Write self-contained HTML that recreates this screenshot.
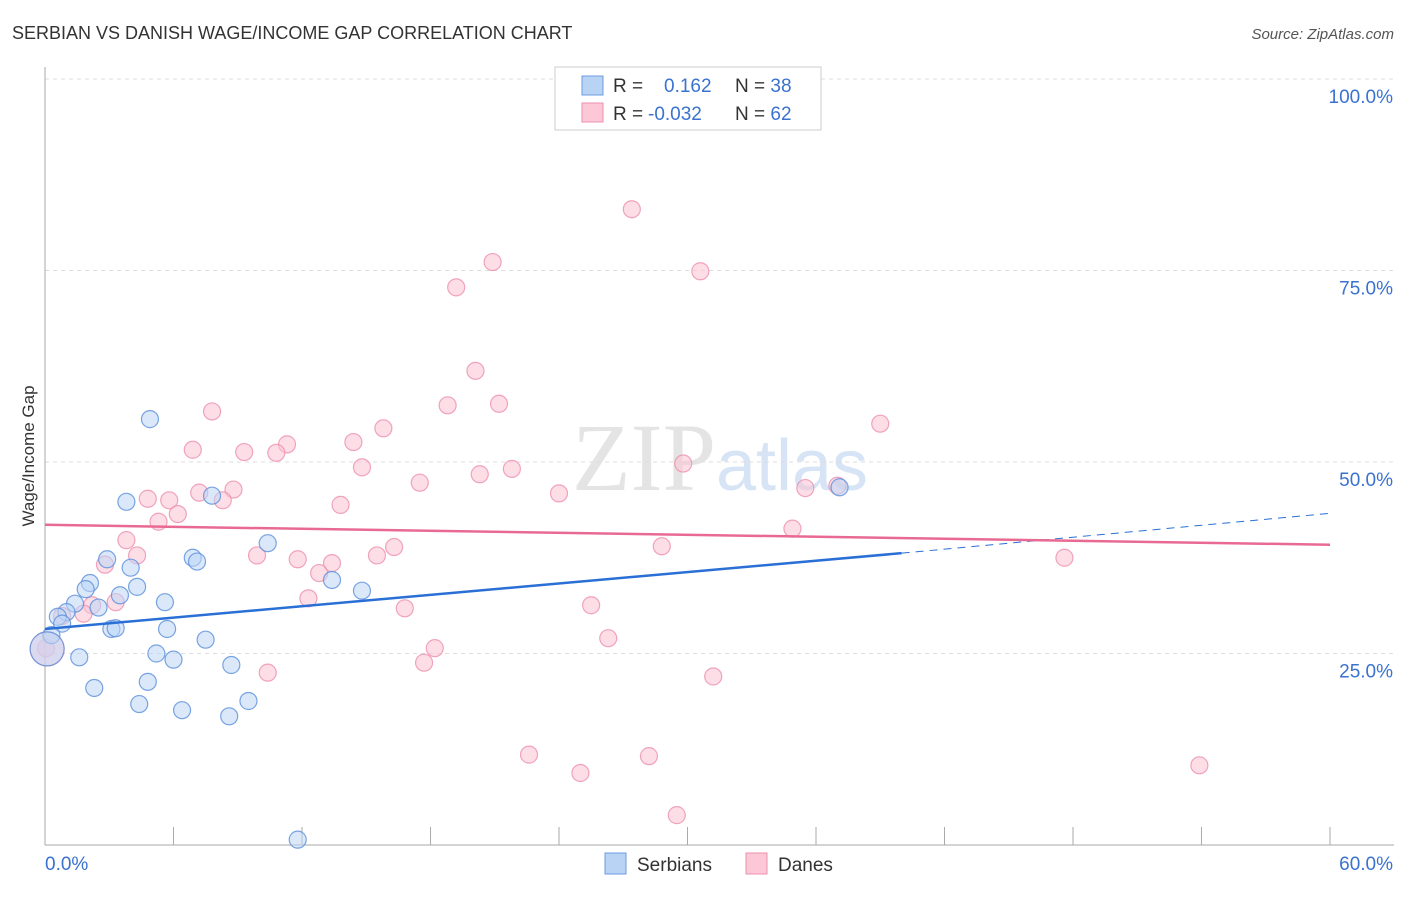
<!DOCTYPE html>
<html><head><meta charset="utf-8"><style>
body{margin:0;background:#fff;font-family:"Liberation Sans",sans-serif;}
</style></head><body>
<svg id="chart" width="1406" height="892" xmlns="http://www.w3.org/2000/svg" style="font-family:'Liberation Sans',sans-serif">
<text x="12" y="39" font-size="18" fill="#333">SERBIAN VS DANISH WAGE/INCOME GAP CORRELATION CHART</text>
<text x="1394" y="39" font-size="15" fill="#555" font-style="italic" text-anchor="end">Source: ZipAtlas.com</text>
<text x="720" y="490" font-size="96" fill="#e4e4e4" text-anchor="middle" font-family="Liberation Serif">ZIP<tspan fill="#d6e4f5" font-family="Liberation Sans" font-size="72">atlas</tspan></text>
<g id="grid"></g><g id="axes"></g><g id="marks"></g>
<text transform="translate(34,456) rotate(-90)" font-size="17" fill="#333" text-anchor="middle">Wage/Income Gap</text>
<g>
<rect x="555" y="67" width="266" height="63" fill="#fff" stroke="#ccc"/>
<rect x="582" y="76" width="21" height="19" fill="#b9d3f5" stroke="#6a9be0"/>
<rect x="582" y="103" width="21" height="19" fill="#fcc8d8" stroke="#ec8fae"/>
<text x="613" y="92" font-size="19" fill="#333">R = <tspan x="664" fill="#3a72d0">0.162</tspan><tspan x="735">N = </tspan><tspan fill="#3a72d0">38</tspan></text>
<text x="613" y="120" font-size="19" fill="#333">R = <tspan x="648" fill="#3a72d0">-0.032</tspan><tspan x="735">N = </tspan><tspan fill="#3a72d0">62</tspan></text>
</g>
<g>
<rect x="605" y="853" width="21" height="21" fill="#b9d3f5" stroke="#6a9be0"/>
<text x="637" y="871" font-size="19" fill="#333">Serbians</text>
<rect x="746" y="853" width="21" height="21" fill="#fcc8d8" stroke="#ec8fae"/>
<text x="778" y="871" font-size="19" fill="#333">Danes</text>
</g>
</svg>
<script>
const yTicks=[25,50,75,100];
const yTickLabels=["25.0%","50.0%","75.0%","100.0%"];
const xTicks=[0,6,12,18,24,30,36,42,48,54,60];
const serbX=[4.9,3.8,7.8,37.1,10.4,2.9,6.9,7.1,4.0,2.1,1.9,4.3,3.5,5.6,1.4,2.5,1.0,0.6,0.8,3.1,3.3,5.7,0.3,7.5,5.2,6.0,1.6,8.7,4.8,2.3,4.4,9.5,6.4,8.6,11.8,13.4,14.8,0.1];
const serbY=[55.6,44.8,45.6,46.7,39.4,37.3,37.5,37.0,36.2,34.2,33.4,33.7,32.6,31.7,31.5,31.0,30.4,29.8,28.9,28.2,28.3,28.2,27.4,26.8,25.0,24.2,24.5,23.5,21.3,20.5,18.4,18.8,17.6,16.8,0.7,34.6,33.2,25.6];
const daneX=[27.4,20.9,30.6,19.2,20.1,7.8,39.0,18.8,21.2,15.8,11.3,14.4,6.9,9.3,10.8,14.8,29.8,21.8,20.3,17.5,35.5,37.0,8.8,7.2,5.8,4.8,8.3,24.0,13.8,6.2,5.3,34.9,3.8,16.3,28.8,4.3,9.9,15.5,11.8,13.4,47.6,2.8,12.8,3.3,12.3,2.2,25.5,16.8,1.8,0.8,26.3,18.2,0.05,17.7,10.4,31.2,22.6,28.2,25.0,53.9,29.5,0.1];
const daneY=[83.0,76.1,74.9,72.8,61.9,56.6,55.0,57.4,57.6,54.4,52.3,52.6,51.6,51.3,51.2,49.3,49.8,49.1,48.4,47.3,46.6,46.9,46.4,46.0,45.0,45.2,45.0,45.9,44.4,43.2,42.2,41.3,39.8,38.9,39.0,37.8,37.8,37.8,37.3,36.8,37.5,36.6,35.5,31.7,32.2,31.3,31.3,30.9,30.2,29.9,27.0,25.7,25.7,23.8,22.5,22.0,11.8,11.6,9.4,10.4,3.9,25.6];
const serbTrend=[0,28.2,40,38.1,60,43.3];
const daneTrend=[0,41.8,60,39.2];
const X=v=>45+v/60*1285, Y=v=>845-v/100*766;
const ns="http://www.w3.org/2000/svg";
function mk(p,t,a){const e=document.createElementNS(ns,t);for(const k in a)e.setAttribute(k,a[k]);p.appendChild(e);return e;}
const grid=document.getElementById('grid'),axes=document.getElementById('axes'),marks=document.getElementById('marks');
yTicks.forEach((t,i)=>{const g=mk(grid,'line',{x1:45,x2:1394,y1:Y(t),y2:Y(t),stroke:'#ddd','stroke-dasharray':'4,4'});

const l=mk(axes,'text',{x:1393,y:Y(t)+24,'font-size':19,fill:'#3a72d0','text-anchor':'end'});l.textContent=yTickLabels[i];
});
const ax=mk(axes,'line',{x1:45,x2:45,y1:67,y2:845,stroke:'#aaa'});
const bx=mk(axes,'line',{x1:45,x2:1394,y1:845,y2:845,stroke:'#aaa'});
xTicks.forEach(t=>{const k=mk(axes,'line',{x1:X(t),x2:X(t),y1:827,y2:845,stroke:'#aaa'});});
const x0=mk(axes,'text',{x:45,y:870,'font-size':19,fill:'#3a72d0'});x0.textContent='0.0%';
const x1=mk(axes,'text',{x:1393,y:870,'font-size':19,fill:'#3a72d0','text-anchor':'end'});x1.textContent='60.0%';
function pts(xs,ys,fill,stroke,name){xs.forEach((v,i)=>{const big=i==xs.length-1;const c=mk(marks,'circle',{cx:X(v),cy:Y(ys[i]),r:big?17:8.5,fill:fill,'fill-opacity':0.55,stroke:stroke,'stroke-opacity':0.8,'stroke-width':1.2});
});}
pts(daneX,daneY,'#fbc2d4','#ec8fae','danes-point');
pts(serbX,serbY,'#bcd5f5','#5a8fdb','serbians-point');
let l=mk(marks,'line',{x1:X(serbTrend[0]),y1:Y(serbTrend[1]),x2:X(serbTrend[2]),y2:Y(serbTrend[3]),stroke:'#2a6fd6','stroke-width':2.5});

l=mk(marks,'line',{x1:X(serbTrend[2]),y1:Y(serbTrend[3]),x2:X(serbTrend[4]),y2:Y(serbTrend[5]),stroke:'#2a6fd6','stroke-width':1,'stroke-dasharray':'8,6'});

l=mk(marks,'line',{x1:X(daneTrend[0]),y1:Y(daneTrend[1]),x2:X(daneTrend[2]),y2:Y(daneTrend[3]),stroke:'#e86a93','stroke-width':2.5});

</script>
</body></html>
